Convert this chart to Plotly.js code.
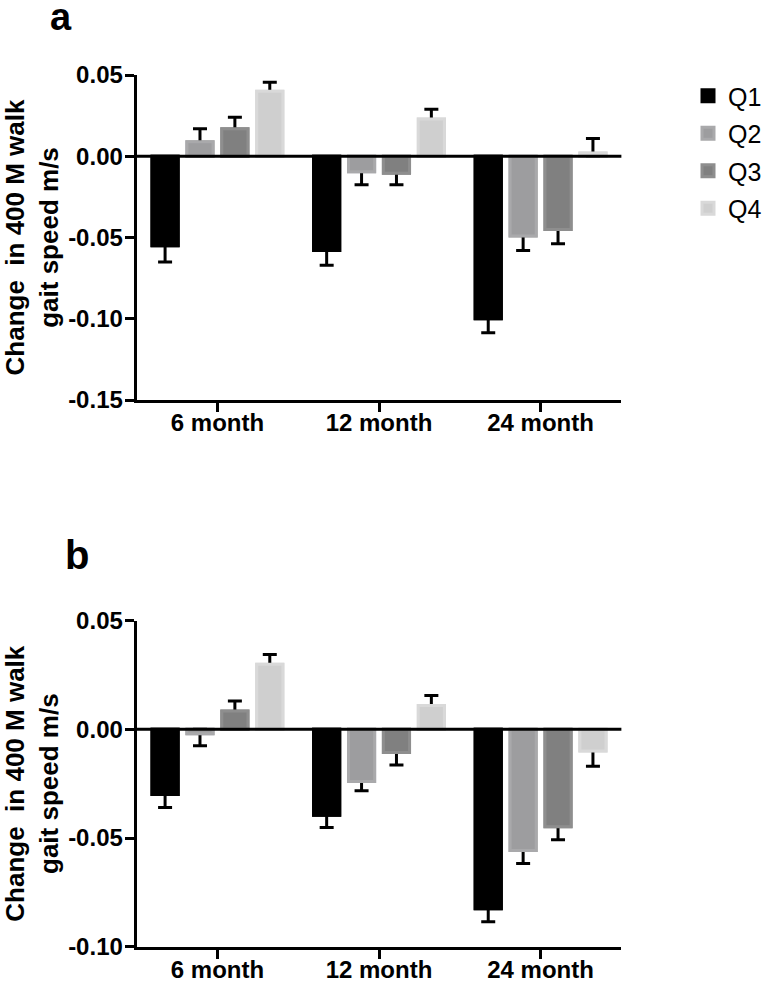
<!DOCTYPE html>
<html>
<head>
<meta charset="utf-8">
<script src="https://cdn.plot.ly/plotly-3.0.1.min.js"></script>
<style>html,body{margin:0;padding:0;background:#fff;}#chart{width:767px;height:982px;}</style>
</head>
<body>
<div id="chart"></div>
<script>
// ---- data ----
const categories = ['6 month', '12 month', '24 month'];
const quartiles = ['Q1', 'Q2', 'Q3', 'Q4'];

// Panel a: change in 400 M walk gait speed (m/s)
const a_Q1 = [-0.055, -0.058, -0.100];
const a_Q2 = [0.009, -0.0095, -0.049];
const a_Q3 = [0.017, -0.0105, -0.045];
const a_Q4 = [0.040, 0.023, 0.002];
const a_Q1_err = [0.010, 0.009, 0.0086];
const a_Q2_err = [0.008, 0.008, 0.009];
const a_Q3_err = [0.007, 0.007, 0.0088];
const a_Q4_err = [0.0055, 0.006, 0.009];

// Panel b
const b_Q1 = [-0.030, -0.0395, -0.0825];
const b_Q2 = [-0.002, -0.024, -0.0557];
const b_Q3 = [0.0085, -0.0107, -0.0448];
const b_Q4 = [0.030, 0.011, -0.010];
const b_Q1_err = [0.006, 0.0057, 0.006];
const b_Q2_err = [0.0055, 0.0043, 0.006];
const b_Q3_err = [0.0046, 0.0057, 0.006];
const b_Q4_err = [0.0045, 0.0046, 0.007];

const a_tickvals = [-0.15, -0.10, -0.05, 0.00, 0.05];
const a_ticktext = ['-0.15', '-0.10', '-0.05', '0.00', '0.05'];
const b_tickvals = [-0.10, -0.05, 0.00, 0.05];
const b_ticktext = ['-0.10', '-0.05', '0.00', '0.05'];

// ---- styles ----
const fillColors = ['#000000', '#9d9d9f', '#808080', '#cfcfcf'];
const edgeColors = ['#000000', '#a9a9ab', '#8e8e8e', '#d9d9d9'];
const FONT = 'Liberation Sans, Arial, Helvetica, sans-serif';

const panelA = {vals: [a_Q1, a_Q2, a_Q3, a_Q4], errs: [a_Q1_err, a_Q2_err, a_Q3_err, a_Q4_err]};
const panelB = {vals: [b_Q1, b_Q2, b_Q3, b_Q4], errs: [b_Q1_err, b_Q2_err, b_Q3_err, b_Q4_err]};

function outward(vals, errs) {
  // one-sided error bars pointing away from zero; the inner part is hidden by the bars drawn on top
  const plus = [], minus = [];
  vals.forEach((v, i) => {
    const e = errs[i];
    if (v >= 0) { plus.push(e); minus.push(Math.min(e, v)); }
    else { minus.push(e); plus.push(Math.min(e, -v)); }
  });
  return {plus, minus};
}

const traces = [];
function addPanel(panel, xBase, xTop, yax, legend) {
  quartiles.forEach((q, k) => {
    const eb = outward(panel.vals[k], panel.errs[k]);
    traces.push({
      type: 'bar', name: q, x: categories, y: panel.vals[k],
      xaxis: xBase, yaxis: yax, legendgroup: q, showlegend: legend,
      marker: {color: fillColors[k], line: {color: edgeColors[k], width: 3}},
      error_y: {type: 'data', symmetric: false, array: eb.plus, arrayminus: eb.minus,
                color: '#000', thickness: 3, width: 7}
    });
  });
  quartiles.forEach((q, k) => {
    traces.push({
      type: 'bar', name: q, x: categories, y: panel.vals[k],
      xaxis: xTop, yaxis: yax, legendgroup: q, showlegend: false, hoverinfo: 'skip',
      marker: {color: fillColors[k], line: {color: edgeColors[k], width: 3}}
    });
  });
}
addPanel(panelA, 'x', 'x2', 'y', true);
addPanel(panelB, 'x3', 'x4', 'y2', false);

const W = 767, H = 982;
const xDom = [137 / W, 623 / W];
const yDomA = [1 - 400 / H, 1 - 75 / H];
const yDomB = [1 - 946.7 / H, 1 - 620.7 / H];

const tickFont = {family: FONT, size: 24, color: '#000', weight: 'bold'};
function xAxis(anchor, visible, overlay) {
  const ax = {
    type: 'category', domain: xDom, anchor: anchor, range: [-0.5, 2.5], fixedrange: true,
    showline: true, linewidth: 3, linecolor: '#000', mirror: false,
    ticks: 'outside', ticklen: 9, tickwidth: 3, tickcolor: '#000', ticklabelstandoff: -10,
    tickfont: tickFont, showgrid: false, zeroline: false, automargin: false
  };
  if (!visible) { ax.visible = false; ax.overlaying = overlay; }
  return ax;
}
function yAxis(dom, range, tv, tt, anchor) {
  return {
    domain: dom, range: range, anchor: anchor, fixedrange: true,
    tickmode: 'array', tickvals: tv, ticktext: tt,
    showline: true, linewidth: 3, linecolor: '#000',
    ticks: 'outside', ticklen: 9, tickwidth: 3, tickcolor: '#000', ticklabelstandoff: -3,
    tickfont: tickFont, showgrid: false, zeroline: false, automargin: false,
    title: {text: 'Change  in 400 M walk<br>gait speed m/s', standoff: 19,
            font: {family: FONT, size: 26, color: '#000', weight: 'bold'}}
  };
}

const layout = {
  width: W, height: H,
  margin: {l: 0, r: 0, t: 0, b: 0, pad: 0},
  paper_bgcolor: '#fff', plot_bgcolor: '#fff',
  barmode: 'group', bargap: 0.136, bargroupgap: 0.25,
  showlegend: true,
  legend: {x: 690 / W, y: 1 - 73 / H, xanchor: 'left', yanchor: 'top',
           font: {family: FONT, size: 25, color: '#000'}, tracegroupgap: 2,
           bgcolor: 'rgba(0,0,0,0)', itemclick: false},
  xaxis: xAxis('y', true),
  xaxis2: xAxis('y', false, 'x'),
  xaxis3: xAxis('y2', true),
  xaxis4: xAxis('y2', false, 'x3'),
  yaxis: yAxis(yDomA, [-0.15, 0.05], a_tickvals, a_ticktext, 'x'),
  yaxis2: yAxis(yDomB, [-0.10, 0.05], b_tickvals, b_ticktext, 'x3'),
  shapes: [
    {type: 'line', xref: 'x domain', yref: 'y', x0: 0, x1: 1, y0: 0, y1: 0,
     line: {color: '#000', width: 3}, layer: 'above'},
    {type: 'line', xref: 'x3 domain', yref: 'y2', x0: 0, x1: 1, y0: 0, y1: 0,
     line: {color: '#000', width: 3}, layer: 'above'}
  ],
  annotations: [
    {text: 'a', xref: 'paper', yref: 'paper', x: 61 / W, y: 1, xanchor: 'center', yanchor: 'top',
     height: 30, valign: 'middle',
     showarrow: false, font: {family: FONT, size: 38, color: '#000', weight: 'bold'}},
    {text: 'b', xref: 'paper', yref: 'paper', x: 77 / W, y: 1 - 579 / H, xanchor: 'center', yanchor: 'bottom',
     showarrow: false, font: {family: FONT, size: 40, color: '#000', weight: 'bold'}}
  ]
};

Plotly.newPlot('chart', traces, layout, {displayModeBar: false, staticPlot: true});
</script>
</body>
</html>
